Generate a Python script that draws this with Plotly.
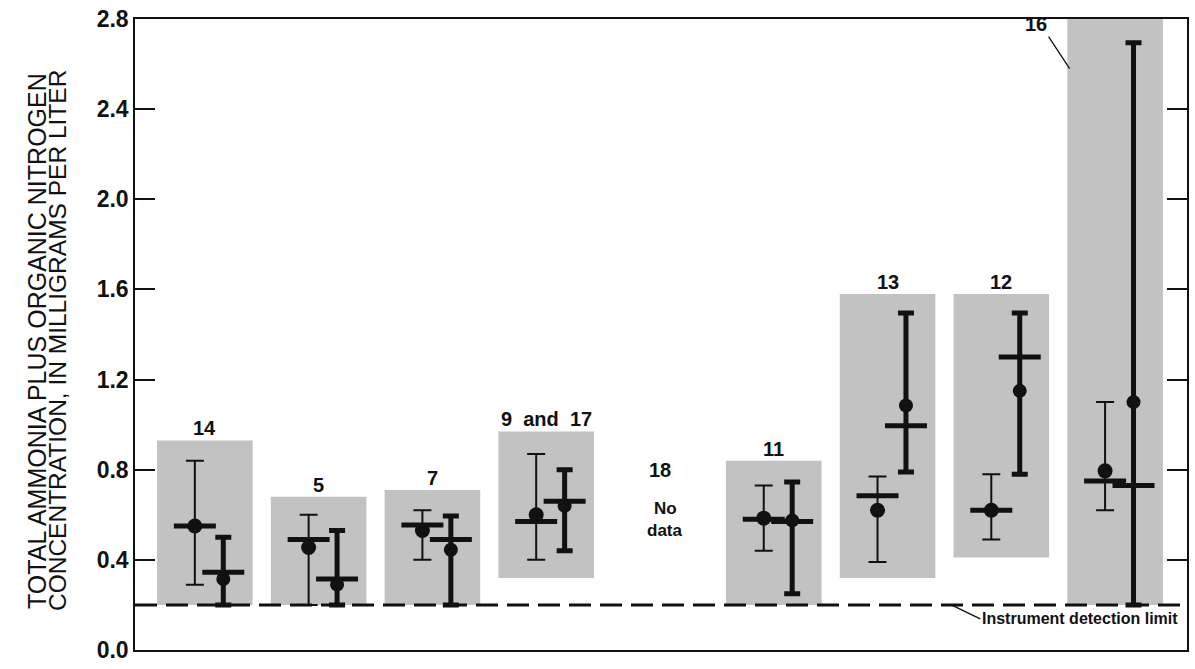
import plotly.graph_objects as go

# ---------------- data ----------------
sites = ["14", "5", "7", "9\u00a0 and\u00a0 17", "18", "11", "13", "12", "16"]
shade_top = [0.93, 0.68, 0.71, 0.97, None, 0.84, 1.58, 1.58, 2.8]
shade_bottom = [0.2, 0.2, 0.2, 0.32, None, 0.2, 0.32, 0.41, 0.2]

# thin bars (first series of each pair)
thin_low = [0.29, 0.20, 0.40, 0.40, None, 0.44, 0.39, 0.49, 0.62]
thin_high = [0.84, 0.60, 0.62, 0.87, None, 0.73, 0.77, 0.78, 1.10]
thin_mean = [0.55, 0.455, 0.53, 0.60, None, 0.585, 0.62, 0.62, 0.795]
thin_median = [0.55, 0.49, 0.555, 0.57, None, 0.58, 0.685, 0.62, 0.75]

# thick bars (second series of each pair)
thick_low = [0.20, 0.20, 0.20, 0.44, None, 0.25, 0.79, 0.78, 0.20]
thick_high = [0.50, 0.53, 0.595, 0.80, None, 0.745, 1.495, 1.495, 2.695]
thick_mean = [0.315, 0.29, 0.445, 0.64, None, 0.575, 1.085, 1.15, 1.10]
thick_median = [0.345, 0.315, 0.49, 0.66, None, 0.57, 0.995, 1.30, 0.73]

detection_limit = 0.2
y_ticks = [0.0, 0.4, 0.8, 1.2, 1.6, 2.0, 2.4, 2.8]
y_title_1 = "TOTAL AMMONIA PLUS ORGANIC NITROGEN"
y_title_2 = "CONCENTRATION, IN MILLIGRAMS PER LITER"
no_data_site = "18"
no_data_text = ["No", "data"]
detection_text = "Instrument detection limit"

# ---------------- layout constants ----------------
THIN_DX = -0.088
THICK_DX = 0.162
BOX_HALF = 0.42
X_RANGE = [-0.614, 8.632]
GRAY = "#c2c2c2"
INK = "#111111"
FONT = "Liberation Sans, Arial, sans-serif"

fig = go.Figure()


def series(low, high, mean, median, dx, thick, dot, cap):
    idx = [i for i, v in enumerate(mean) if v is not None]
    xs = [i + dx for i in idx]
    fig.add_trace(go.Scatter(
        x=xs, y=[mean[i] for i in idx], mode="markers",
        marker=dict(size=dot, color=INK),
        error_y=dict(type="data", symmetric=False,
                     array=[high[i] - mean[i] for i in idx],
                     arrayminus=[mean[i] - low[i] for i in idx],
                     color=INK, thickness=thick, width=cap),
        hoverinfo="skip", showlegend=False))
    fig.add_trace(go.Scatter(
        x=xs, y=[median[i] for i in idx], mode="markers",
        marker=dict(symbol="line-ew", size=30,
                    line=dict(width=5, color=INK)),
        hoverinfo="skip", showlegend=False))


shapes = []
for i, (t, b) in enumerate(zip(shade_top, shade_bottom)):
    if t is None:
        continue
    shapes.append(dict(type="rect", xref="x", yref="y", layer="below",
                       x0=i - BOX_HALF, x1=i + BOX_HALF, y0=b, y1=t,
                       fillcolor=GRAY, line=dict(width=0)))
shapes.append(dict(type="line", xref="x", yref="y", layer="below",
                   x0=X_RANGE[0], x1=X_RANGE[1],
                   y0=detection_limit, y1=detection_limit,
                   line=dict(color=INK, width=3, dash="22px,9px")))

series(thin_low, thin_high, thin_mean, thin_median, THIN_DX, 2, 15, 9)
series(thick_low, thick_high, thick_mean, thick_median, THICK_DX, 5, 14, 8)

LABEL_FONT = dict(family=FONT, size=20, color=INK, weight="bold")

annotations = []
for i, (s, t) in enumerate(zip(sites, shade_top)):
    if t is None or s == "16":
        continue
    annotations.append(dict(x=i, y=t, xref="x", yref="y", text=s,
                            showarrow=False, yanchor="bottom", yshift=-1,
                            font=LABEL_FONT))

# site 16 label with leader
i16 = sites.index("16")
annotations.append(dict(x=i16 - 0.4, y=2.58, xref="x", yref="y", text="16",
                        showarrow=True, arrowhead=0, arrowwidth=1.3,
                        arrowcolor=INK, ax=-21, ay=-32,
                        xanchor="right", yanchor="bottom",
                        font=LABEL_FONT))

# no data site
i18 = sites.index(no_data_site)
annotations.append(dict(x=i18, y=0.80, xref="x", yref="y", text=no_data_site,
                        showarrow=False, font=LABEL_FONT))
annotations.append(dict(x=i18 + 0.05, y=0.63, xref="x", yref="y",
                        text=no_data_text[0], showarrow=False,
                        font=dict(family=FONT, size=17, color=INK,
                                  weight="bold")))
annotations.append(dict(x=i18 + 0.04, y=0.53, xref="x", yref="y",
                        text=no_data_text[1], showarrow=False,
                        font=dict(family=FONT, size=17, color=INK,
                                  weight="bold")))

# detection limit label
annotations.append(dict(x=6.56, y=detection_limit, xref="x", yref="y",
                        text=detection_text, showarrow=True, arrowhead=0,
                        arrowwidth=1.3, arrowcolor=INK, ax=29, ay=14,
                        xanchor="left", yanchor="middle",
                        font=dict(family=FONT, size=16, color=INK,
                                  weight="bold")))

# y-axis title (two tight lines)
annotations.append(dict(x=-0.093, y=0.49, xref="paper", yref="paper",
                        text=y_title_1, textangle=-90, showarrow=False,
                        xanchor="center", yanchor="middle",
                        font=dict(family=FONT, size=25, color=INK)))
annotations.append(dict(x=-0.073, y=0.49, xref="paper", yref="paper",
                        text=y_title_2, textangle=-90, showarrow=False,
                        xanchor="center", yanchor="middle",
                        font=dict(family=FONT, size=24.5, color=INK)))

fig.update_layout(
    width=1195, height=669,
    margin=dict(l=135, r=6, t=16, b=15),
    paper_bgcolor="white", plot_bgcolor="white",
    shapes=shapes, annotations=annotations,
    xaxis=dict(range=X_RANGE, showgrid=False, zeroline=False,
               showticklabels=False, ticks="", showline=True,
               linecolor=INK, linewidth=1.5, mirror=True),
    yaxis=dict(range=[0, 2.8], showgrid=False, zeroline=False,
               tickvals=y_ticks, ticktext=[f"{v:.1f}" for v in y_ticks],
               ticks="inside", ticklen=20, tickwidth=1.5, tickcolor=INK,
               showline=True, linecolor=INK, linewidth=1.5,
               mirror="ticks",
               tickfont=dict(family=FONT, size=23, color=INK, weight="bold")),
)

fig.write_html("out.html")
